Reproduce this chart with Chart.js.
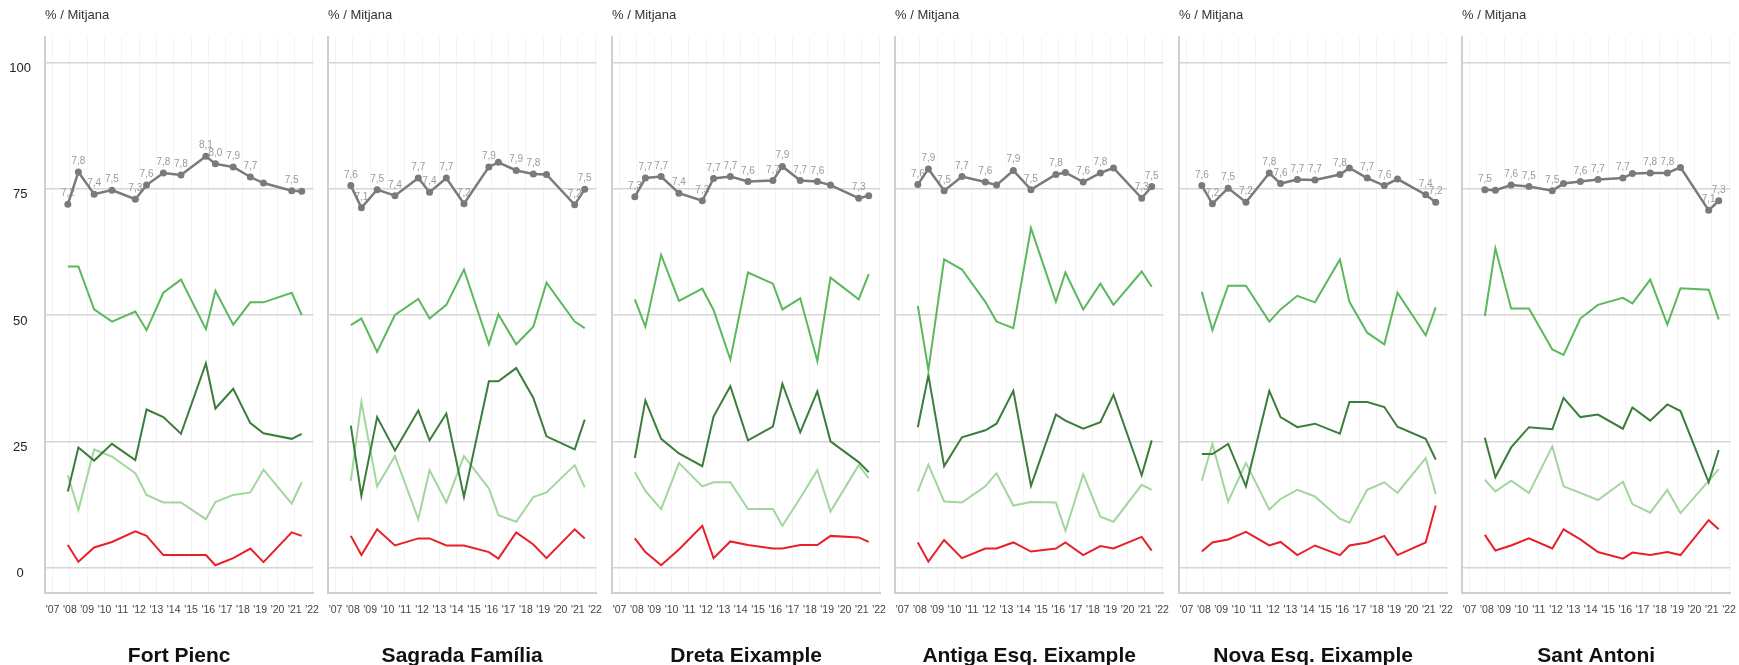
<!DOCTYPE html>
<html>
<head>
<meta charset="utf-8">
<title>Eixample</title>
<script src="https://cdn.jsdelivr.net/npm/chart.js@4.4.1/dist/chart.umd.min.js"></script>
<style>
  body { margin: 0; background: #fff; }
  #wrap { position: relative; width: 1739px; height: 665px; overflow: hidden; }
  .panel { position: absolute; top: 0; width: 330px; height: 665px; }
</style>
</head>
<body>
<div id="wrap"></div>
<script>
const districts = ['Fort Pienc', 'Sagrada Família', 'Dreta Eixample', 'Antiga Esq. Eixample', 'Nova Esq. Eixample', 'Sant Antoni'];
const unitLabel = '% / Mitjana';

// survey dates (decimal years), shared by all panels
const dates = [2007.88, 2008.49, 2009.40, 2010.43, 2011.78, 2012.43, 2013.40, 2014.42, 2015.86, 2016.41, 2017.44, 2018.43, 2019.19, 2020.82, 2021.40];

const yearTicks = [2007, 2008, 2009, 2010, 2011, 2012, 2013, 2014, 2015, 2016, 2017, 2018, 2019, 2020, 2021, 2022];
const yearLabels = ["'07", "'08", "'09", "'10", "'11", "'12", "'13", "'14", "'15", "'16", "'17", "'18", "'19", "'20", "'21", "'22"];
const yTicks = [0, 25, 50, 75, 100];

// mean score (0-10), one row per district
const mitjana = [
  [7.19, 7.83, 7.39, 7.47, 7.29, 7.57, 7.81, 7.77, 8.14, 7.99, 7.93, 7.73, 7.61, 7.46, 7.45],
  [7.56, 7.12, 7.48, 7.36, 7.71, 7.43, 7.71, 7.20, 7.93, 8.02, 7.86, 7.79, 7.78, 7.18, 7.49],
  [7.34, 7.71, 7.74, 7.41, 7.26, 7.70, 7.74, 7.64, 7.66, 7.94, 7.66, 7.64, 7.57, 7.31, 7.36],
  [7.58, 7.89, 7.46, 7.74, 7.63, 7.57, 7.86, 7.48, 7.78, 7.82, 7.63, 7.81, 7.91, 7.31, 7.54],
  [7.56, 7.20, 7.51, 7.23, 7.81, 7.60, 7.68, 7.67, 7.78, 7.91, 7.71, 7.56, 7.69, 7.38, 7.23],
  [7.48, 7.47, 7.57, 7.54, 7.46, 7.60, 7.64, 7.68, 7.71, 7.80, 7.81, 7.81, 7.92, 7.07, 7.26]
];

// percentages
const verd = [
  [59.6, 59.6, 51.1, 48.7, 50.7, 47.0, 54.4, 57.0, 47.2, 54.8, 48.1, 52.5, 52.5, 54.4, 50.0],
  [48.0, 49.3, 42.7, 50.0, 53.2, 49.3, 52.0, 59.0, 44.2, 50.1, 44.2, 47.7, 56.4, 48.7, 47.4],
  [53.1, 47.7, 61.9, 52.8, 55.2, 51.0, 41.2, 58.4, 56.2, 51.1, 53.3, 40.9, 57.4, 53.1, 58.1],
  [51.8, 39.1, 61.0, 59.0, 52.6, 48.7, 47.4, 67.2, 52.6, 58.4, 51.1, 56.2, 52.0, 58.6, 55.6],
  [54.6, 47.0, 55.8, 55.8, 48.7, 51.1, 53.8, 52.5, 61.0, 52.6, 46.5, 44.2, 54.4, 46.0, 51.5],
  [49.8, 63.2, 51.3, 51.3, 43.2, 42.1, 49.3, 52.0, 53.4, 52.3, 57.0, 48.1, 55.3, 55.0, 49.1]
];
const verdFosc = [
  [15.1, 23.8, 21.2, 24.5, 21.3, 31.3, 29.8, 26.5, 40.4, 31.5, 35.4, 28.6, 26.6, 25.5, 26.5],
  [28.1, 14.2, 29.8, 23.2, 31.1, 25.2, 30.5, 14.0, 36.9, 36.9, 39.5, 33.6, 26.0, 23.4, 29.3],
  [21.7, 33.1, 25.5, 22.6, 20.1, 29.9, 35.9, 25.2, 27.9, 36.4, 26.8, 34.9, 25.0, 20.9, 18.9],
  [27.8, 38.1, 20.1, 25.8, 27.2, 28.5, 35.0, 16.2, 30.3, 29.1, 27.5, 28.8, 34.2, 18.3, 25.2],
  [22.5, 22.5, 24.5, 16.1, 35.0, 29.8, 27.8, 28.5, 26.5, 32.8, 32.8, 31.8, 27.9, 25.5, 21.4],
  [25.7, 17.9, 23.8, 27.8, 27.4, 33.6, 29.8, 30.3, 27.5, 31.7, 29.1, 32.3, 31.0, 16.9, 23.3]
];
const verdClar = [
  [18.3, 11.4, 23.4, 22.0, 18.7, 14.4, 12.9, 12.9, 9.6, 13.0, 14.4, 14.9, 19.4, 12.7, 16.9],
  [17.2, 32.8, 16.1, 22.1, 9.6, 19.3, 12.9, 22.1, 15.7, 10.4, 9.1, 14.0, 14.9, 20.3, 15.9],
  [18.9, 15.2, 11.6, 20.7, 16.1, 16.9, 16.9, 11.6, 11.6, 8.3, 13.8, 19.3, 11.1, 20.3, 17.7],
  [15.1, 20.4, 13.1, 12.9, 16.1, 18.7, 12.3, 13.0, 12.9, 7.3, 18.5, 10.1, 9.1, 16.4, 15.4],
  [17.2, 24.5, 13.1, 20.7, 11.5, 13.6, 15.4, 14.1, 9.7, 8.9, 15.4, 16.9, 14.8, 21.7, 14.6],
  [17.4, 15.1, 17.2, 14.8, 24.0, 16.1, 14.8, 13.4, 17.0, 12.6, 10.9, 15.4, 10.8, 17.2, 19.5]
];
const vermell = [
  [4.5, 1.2, 4.0, 5.1, 7.2, 6.3, 2.5, 2.5, 2.5, 0.5, 1.9, 3.8, 1.1, 7.0, 6.3],
  [6.3, 2.5, 7.6, 4.4, 5.8, 5.8, 4.4, 4.4, 3.1, 1.8, 7.0, 4.6, 1.9, 7.6, 5.8],
  [5.8, 3.1, 0.5, 3.6, 8.3, 1.9, 5.2, 4.5, 3.8, 3.8, 4.5, 4.5, 6.3, 6.0, 5.1],
  [5.0, 1.2, 5.5, 1.9, 3.8, 3.8, 5.0, 3.2, 3.8, 5.0, 2.5, 4.3, 3.8, 6.1, 3.4],
  [3.2, 5.0, 5.6, 7.1, 4.4, 5.1, 2.5, 4.4, 2.5, 4.4, 5.0, 6.3, 2.5, 5.0, 12.3],
  [6.5, 3.4, 4.4, 5.8, 3.8, 7.6, 5.6, 3.1, 1.8, 3.0, 2.5, 3.1, 2.5, 9.4, 7.6]
];

const FONT = '"Liberation Sans", Arial, sans-serif';

// labels over the mean points, skipping the ones that would collide
const panelText = {
  id: 'panelText',
  beforeDatasetsDraw(chart, args, opts) {
    const ctx = chart.ctx;
    const meta = chart.getDatasetMeta(0);
    const values = chart.data.datasets[0].raw;
    ctx.save();
    ctx.font = '10px ' + FONT;
    ctx.fillStyle = '#9a9a9a';
    ctx.textAlign = 'center';
    ctx.textBaseline = 'alphabetic';
    const boxes = [];
    meta.data.forEach((pt, i) => {
      const txt = values[i].toFixed(1).replace('.', ',');
      const w = ctx.measureText(txt).width;
      const cy = pt.y - 12.6;
      const hit = boxes.some(b => Math.abs(b.x - pt.x) < w && Math.abs(b.y - cy) < 7.3);
      if (hit) return;
      boxes.push({ x: pt.x, y: cy });
      ctx.fillText(txt, pt.x, pt.y - 8);
    });
    ctx.restore();
  },
  afterDraw(chart, args, opts) {
    const { ctx, chartArea } = chart;
    ctx.save();
    ctx.font = '13px ' + FONT;
    ctx.fillStyle = '#333';
    ctx.textAlign = 'left';
    ctx.fillText(unitLabel, chartArea.left, 19);
    ctx.font = 'bold 21px ' + FONT;
    ctx.fillStyle = '#111';
    ctx.textAlign = 'center';
    ctx.fillText(opts.name, (chartArea.left + chartArea.right) / 2, 662);
    ctx.restore();
  }
};

const wrap = document.getElementById('wrap');

districts.forEach((name, p) => {
  const div = document.createElement('div');
  div.className = 'panel';
  div.style.left = Math.round(283.46 * p) + 'px';
  const canvas = document.createElement('canvas');
  div.appendChild(canvas);
  wrap.appendChild(div);

  const pts = arr => arr.map((v, i) => ({ x: dates[i], y: v }));

  new Chart(canvas, {
    type: 'line',
    data: {
      datasets: [
        { data: mitjana[p].map((v, i) => ({ x: dates[i], y: v * 10 })), raw: mitjana[p],
          borderColor: '#7a7a7a', backgroundColor: '#7a7a7a', borderWidth: 2.5,
          pointRadius: 3.5, pointBorderWidth: 0, pointBackgroundColor: '#7a7a7a' },
        { data: pts(verd[p]), borderColor: '#5cb85c', borderWidth: 2, pointRadius: 0 },
        { data: pts(verdFosc[p]), borderColor: '#3b7d3b', borderWidth: 2, pointRadius: 0 },
        { data: pts(verdClar[p]), borderColor: '#a3d69e', borderWidth: 2, pointRadius: 0 },
        { data: pts(vermell[p]), borderColor: '#e8202a', borderWidth: 2, pointRadius: 0 }
      ]
    },
    options: {
      responsive: true,
      maintainAspectRatio: false,
      animation: false,
      events: [],
      layout: { padding: { top: 37, right: 12, left: 0, bottom: 0 } },
      elements: { line: { tension: 0 } },
      scales: {
        x: {
          type: 'linear',
          min: 2006.56,
          max: 2022.07,
          afterBuildTicks: s => { s.ticks = yearTicks.map(v => ({ value: v })); },
          afterFit: s => { s.height = 72; },
          grid: { color: '#f4f4f4', lineWidth: 1, drawTicks: false },
          border: { display: true, color: '#cfcfcf', width: 2 },
          ticks: {
            autoSkip: false, maxRotation: 0, padding: 11,
            color: '#444', font: { family: FONT, size: 10.5 },
            callback: v => yearLabels[yearTicks.indexOf(Math.round(v))]
          }
        },
        y: {
          min: -5,
          max: 105,
          afterBuildTicks: s => { s.ticks = yTicks.map(v => ({ value: v })); },
          afterFit: s => { s.width = 45; },
          grid: { color: '#d6d6d6', lineWidth: 1.5, drawTicks: false },
          border: { display: true, color: '#cfcfcf', width: 2 },
          ticks: {
            display: p === 0,
            crossAlign: 'center', padding: 14, labelOffset: 6,
            color: '#222', font: { family: FONT, size: 13 }
          }
        }
      },
      plugins: {
        legend: { display: false },
        tooltip: { enabled: false },
        panelText: { name }
      }
    },
    plugins: [panelText]
  });
});
</script>
</body>
</html>
